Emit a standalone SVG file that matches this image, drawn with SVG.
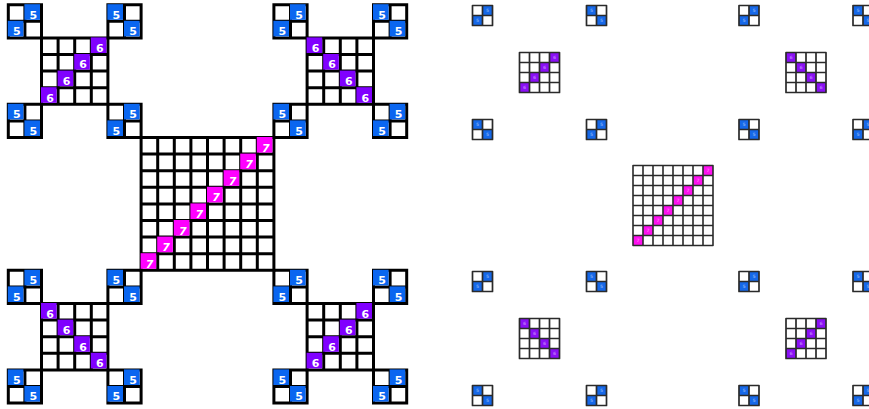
<svg xmlns="http://www.w3.org/2000/svg" width="869" height="409" viewBox="0 0 869 409">
<style>
.t{font-family:"DejaVu Sans",sans-serif;font-weight:bold;font-size:11px;fill:#fff;text-anchor:middle}
.i{font-style:italic}
.rt{font-family:"DejaVu Sans",sans-serif;font-weight:bold;font-size:4.5px;fill:#fff;fill-opacity:0.4;text-anchor:middle}
.p{fill:#8000ff}
.m{fill:#ff00ff}
.rp{fill:#8a10f5}
.rm{fill:#ff10f0}
</style>
<defs>
<path id="lg2" fill="#fff" stroke="#000" stroke-width="3" d="M0 0H33.2V33.2H0Z M16.6 0V33.2 M0 16.6H33.2"/>
<path id="lg4" fill="#fff" stroke="#000" stroke-width="3" d="M0 0H66.4V66.4H0Z M16.6 0V66.4M33.2 0V66.4M49.8 0V66.4M0 16.6H66.4M0 33.2H66.4M0 49.8H66.4"/>
<path id="lg8" fill="#fff" stroke="#000" stroke-width="3" d="M0 0H132.8V132.8H0Z M16.6 0V132.8M33.2 0V132.8M49.8 0V132.8M66.4 0V132.8M83 0V132.8M99.6 0V132.8M116.2 0V132.8M0 16.6H132.8M0 33.2H132.8M0 49.8H132.8M0 66.4H132.8M0 83H132.8M0 99.6H132.8M0 116.2H132.8"/>
<g id="lbA"><use href="#lg2"/><rect fill="#0a66f0" x="16.1" y="-0.5" width="15.6" height="15.6"/><rect fill="#0a66f0" x="-0.5" y="16.1" width="15.6" height="15.6"/></g>
<g id="lbM"><use href="#lg2"/><rect fill="#0a66f0" x="-0.5" y="-0.5" width="15.6" height="15.6"/><rect fill="#0a66f0" x="16.1" y="16.1" width="15.6" height="15.6"/></g>
<path id="rg2" fill="none" stroke="#2a2a2a" stroke-width="1.7" stroke-linejoin="round" d="M0 0H20V20H0Z M10 0V20 M0 10H20"/>
<path id="rg4" fill="none" stroke="#2a2a2a" stroke-width="1.7" stroke-linejoin="round" d="M0 0H40V40H0Z M10 0V40M20 0V40M30 0V40M0 10H40M0 20H40M0 30H40"/>
<path id="rg8" fill="none" stroke="#2a2a2a" stroke-width="1.6" stroke-linejoin="round" d="M0 0H80V80H0Z M10 0V80M20 0V80M30 0V80M40 0V80M50 0V80M60 0V80M70 0V80M0 10H80M0 20H80M0 30H80M0 40H80M0 50H80M0 60H80M0 70H80"/>
<g id="rbA"><rect fill="#1668e8" x="10" y="0" width="10" height="10"/><rect fill="#1668e8" x="0" y="10" width="10" height="10"/><use href="#rg2"/></g>
<g id="rbM"><rect fill="#1668e8" x="0" y="0" width="10" height="10"/><rect fill="#1668e8" x="10" y="10" width="10" height="10"/><use href="#rg2"/></g>
</defs>

<!-- LEFT FIGURE: blocks -->
<g id="L-blk-1" transform="translate(8.3,4.7)"><use href="#lbA"/><text class="t" x="25.1" y="14">5</text><text class="t" x="8.5" y="30.6">5</text></g>
<g id="L-blk-2" transform="translate(107.9,4.7)"><use href="#lbM"/><text class="t" x="8.5" y="14">5</text><text class="t" x="25.1" y="30.6">5</text></g>
<g id="L-blk-3" transform="translate(273.9,4.7)"><use href="#lbA"/><text class="t" x="25.1" y="14">5</text><text class="t" x="8.5" y="30.6">5</text></g>
<g id="L-blk-4" transform="translate(373.5,4.7)"><use href="#lbM"/><text class="t" x="8.5" y="14">5</text><text class="t" x="25.1" y="30.6">5</text></g>
<g id="L-blk-5" transform="translate(8.3,104.3)"><use href="#lbM"/><text class="t" x="8.5" y="14">5</text><text class="t" x="25.1" y="30.6">5</text></g>
<g id="L-blk-6" transform="translate(107.9,104.3)"><use href="#lbA"/><text class="t" x="25.1" y="14">5</text><text class="t" x="8.5" y="30.6">5</text></g>
<g id="L-blk-7" transform="translate(273.9,104.3)"><use href="#lbM"/><text class="t" x="8.5" y="14">5</text><text class="t" x="25.1" y="30.6">5</text></g>
<g id="L-blk-8" transform="translate(373.5,104.3)"><use href="#lbA"/><text class="t" x="25.1" y="14">5</text><text class="t" x="8.5" y="30.6">5</text></g>
<g id="L-blk-9" transform="translate(8.3,270.3)"><use href="#lbA"/><text class="t" x="25.1" y="14">5</text><text class="t" x="8.5" y="30.6">5</text></g>
<g id="L-blk-10" transform="translate(107.9,270.3)"><use href="#lbM"/><text class="t" x="8.5" y="14">5</text><text class="t" x="25.1" y="30.6">5</text></g>
<g id="L-blk-11" transform="translate(273.9,270.3)"><use href="#lbA"/><text class="t" x="25.1" y="14">5</text><text class="t" x="8.5" y="30.6">5</text></g>
<g id="L-blk-12" transform="translate(373.5,270.3)"><use href="#lbM"/><text class="t" x="8.5" y="14">5</text><text class="t" x="25.1" y="30.6">5</text></g>
<g id="L-blk-13" transform="translate(8.3,369.9)"><use href="#lbM"/><text class="t" x="8.5" y="14">5</text><text class="t" x="25.1" y="30.6">5</text></g>
<g id="L-blk-14" transform="translate(107.9,369.9)"><use href="#lbA"/><text class="t" x="25.1" y="14">5</text><text class="t" x="8.5" y="30.6">5</text></g>
<g id="L-blk-15" transform="translate(273.9,369.9)"><use href="#lbM"/><text class="t" x="8.5" y="14">5</text><text class="t" x="25.1" y="30.6">5</text></g>
<g id="L-blk-16" transform="translate(373.5,369.9)"><use href="#lbA"/><text class="t" x="25.1" y="14">5</text><text class="t" x="8.5" y="30.6">5</text></g>

<!-- LEFT FIGURE: 4x4 grids -->
<g id="L-grid-TL" transform="translate(41.5,37.9)"><use href="#lg4"/>
<rect class="p" x="49.3" y="-0.5" width="15.6" height="15.6"/><rect class="p" x="32.7" y="16.1" width="15.6" height="15.6"/><rect class="p" x="16.1" y="32.7" width="15.6" height="15.6"/><rect class="p" x="-0.5" y="49.3" width="15.6" height="15.6"/>
<text class="t" x="58.3" y="14">6</text><text class="t" x="41.7" y="30.6">6</text><text class="t" x="25.1" y="47.2">6</text><text class="t" x="8.5" y="63.8">6</text></g>
<g id="L-grid-TR" transform="translate(307.1,37.9)"><use href="#lg4"/>
<rect class="p" x="-0.5" y="-0.5" width="15.6" height="15.6"/><rect class="p" x="16.1" y="16.1" width="15.6" height="15.6"/><rect class="p" x="32.7" y="32.7" width="15.6" height="15.6"/><rect class="p" x="49.3" y="49.3" width="15.6" height="15.6"/>
<text class="t" x="8.5" y="14">6</text><text class="t" x="25.1" y="30.6">6</text><text class="t" x="41.7" y="47.2">6</text><text class="t" x="58.3" y="63.8">6</text></g>
<g id="L-grid-BL" transform="translate(41.5,303.5)"><use href="#lg4"/>
<rect class="p" x="-0.5" y="-0.5" width="15.6" height="15.6"/><rect class="p" x="16.1" y="16.1" width="15.6" height="15.6"/><rect class="p" x="32.7" y="32.7" width="15.6" height="15.6"/><rect class="p" x="49.3" y="49.3" width="15.6" height="15.6"/>
<text class="t" x="8.5" y="14">6</text><text class="t" x="25.1" y="30.6">6</text><text class="t" x="41.7" y="47.2">6</text><text class="t" x="58.3" y="63.8">6</text></g>
<g id="L-grid-BR" transform="translate(307.1,303.5)"><use href="#lg4"/>
<rect class="p" x="49.3" y="-0.5" width="15.6" height="15.6"/><rect class="p" x="32.7" y="16.1" width="15.6" height="15.6"/><rect class="p" x="16.1" y="32.7" width="15.6" height="15.6"/><rect class="p" x="-0.5" y="49.3" width="15.6" height="15.6"/>
<text class="t" x="58.3" y="14">6</text><text class="t" x="41.7" y="30.6">6</text><text class="t" x="25.1" y="47.2">6</text><text class="t" x="8.5" y="63.8">6</text></g>

<!-- LEFT FIGURE: center 8x8 -->
<g id="L-grid-center" transform="translate(141.1,137.5)"><use href="#lg8"/>
<rect class="m" x="115.7" y="-0.5" width="15.6" height="15.6"/><rect class="m" x="99.1" y="16.1" width="15.6" height="15.6"/><rect class="m" x="82.5" y="32.7" width="15.6" height="15.6"/><rect class="m" x="65.9" y="49.3" width="15.6" height="15.6"/><rect class="m" x="49.3" y="65.9" width="15.6" height="15.6"/><rect class="m" x="32.7" y="82.5" width="15.6" height="15.6"/><rect class="m" x="16.1" y="99.1" width="15.6" height="15.6"/><rect class="m" x="-0.5" y="115.7" width="15.6" height="15.6"/>
<text class="t i" x="124.7" y="14">7</text><text class="t i" x="108.1" y="30.6">7</text><text class="t i" x="91.5" y="47.2">7</text><text class="t i" x="74.9" y="63.8">7</text><text class="t i" x="58.3" y="80.4">7</text><text class="t i" x="41.7" y="97">7</text><text class="t i" x="25.1" y="113.6">7</text><text class="t i" x="8.5" y="130.2">7</text></g>

<!-- RIGHT FIGURE: blocks -->
<g id="R-blk-1" transform="translate(472.5,5.5)"><use href="#rbA"/><text class="rt" x="15" y="6.6">5</text><text class="rt" x="5" y="16.6">5</text></g>
<g id="R-blk-2" transform="translate(586.5,5.5)"><use href="#rbM"/><text class="rt" x="5" y="6.6">5</text><text class="rt" x="15" y="16.6">5</text></g>
<g id="R-blk-3" transform="translate(739,5.5)"><use href="#rbA"/><text class="rt" x="15" y="6.6">5</text><text class="rt" x="5" y="16.6">5</text></g>
<g id="R-blk-4" transform="translate(853,5.5)"><use href="#rbM"/><text class="rt" x="5" y="6.6">5</text><text class="rt" x="15" y="16.6">5</text></g>
<g id="R-blk-5" transform="translate(472.5,119.5)"><use href="#rbM"/><text class="rt" x="5" y="6.6">5</text><text class="rt" x="15" y="16.6">5</text></g>
<g id="R-blk-6" transform="translate(586.5,119.5)"><use href="#rbA"/><text class="rt" x="15" y="6.6">5</text><text class="rt" x="5" y="16.6">5</text></g>
<g id="R-blk-7" transform="translate(739,119.5)"><use href="#rbM"/><text class="rt" x="5" y="6.6">5</text><text class="rt" x="15" y="16.6">5</text></g>
<g id="R-blk-8" transform="translate(853,119.5)"><use href="#rbA"/><text class="rt" x="15" y="6.6">5</text><text class="rt" x="5" y="16.6">5</text></g>
<g id="R-blk-9" transform="translate(472.5,271.5)"><use href="#rbA"/><text class="rt" x="15" y="6.6">5</text><text class="rt" x="5" y="16.6">5</text></g>
<g id="R-blk-10" transform="translate(586.5,271.5)"><use href="#rbM"/><text class="rt" x="5" y="6.6">5</text><text class="rt" x="15" y="16.6">5</text></g>
<g id="R-blk-11" transform="translate(739,271.5)"><use href="#rbA"/><text class="rt" x="15" y="6.6">5</text><text class="rt" x="5" y="16.6">5</text></g>
<g id="R-blk-12" transform="translate(853,271.5)"><use href="#rbM"/><text class="rt" x="5" y="6.6">5</text><text class="rt" x="15" y="16.6">5</text></g>
<g id="R-blk-13" transform="translate(472.5,385.5)"><use href="#rbM"/><text class="rt" x="5" y="6.6">5</text><text class="rt" x="15" y="16.6">5</text></g>
<g id="R-blk-14" transform="translate(586.5,385.5)"><use href="#rbA"/><text class="rt" x="15" y="6.6">5</text><text class="rt" x="5" y="16.6">5</text></g>
<g id="R-blk-15" transform="translate(739,385.5)"><use href="#rbM"/><text class="rt" x="5" y="6.6">5</text><text class="rt" x="15" y="16.6">5</text></g>
<g id="R-blk-16" transform="translate(853,385.5)"><use href="#rbA"/><text class="rt" x="15" y="6.6">5</text><text class="rt" x="5" y="16.6">5</text></g>

<!-- RIGHT FIGURE: 4x4 grids -->
<g id="R-grid-TL" transform="translate(519.5,52.5)">
<rect class="rp" x="30" y="0" width="10" height="10"/><rect class="rp" x="20" y="10" width="10" height="10"/><rect class="rp" x="10" y="20" width="10" height="10"/><rect class="rp" x="0" y="30" width="10" height="10"/><use href="#rg4"/>
<text class="rt" x="35" y="6.6">6</text><text class="rt" x="25" y="16.6">6</text><text class="rt" x="15" y="26.6">6</text><text class="rt" x="5" y="36.6">6</text></g>
<g id="R-grid-TR" transform="translate(786,52.5)">
<rect class="rp" x="0" y="0" width="10" height="10"/><rect class="rp" x="10" y="10" width="10" height="10"/><rect class="rp" x="20" y="20" width="10" height="10"/><rect class="rp" x="30" y="30" width="10" height="10"/><use href="#rg4"/>
<text class="rt" x="5" y="6.6">6</text><text class="rt" x="15" y="16.6">6</text><text class="rt" x="25" y="26.6">6</text><text class="rt" x="35" y="36.6">6</text></g>
<g id="R-grid-BL" transform="translate(519.5,318.5)">
<rect class="rp" x="0" y="0" width="10" height="10"/><rect class="rp" x="10" y="10" width="10" height="10"/><rect class="rp" x="20" y="20" width="10" height="10"/><rect class="rp" x="30" y="30" width="10" height="10"/><use href="#rg4"/>
<text class="rt" x="5" y="6.6">6</text><text class="rt" x="15" y="16.6">6</text><text class="rt" x="25" y="26.6">6</text><text class="rt" x="35" y="36.6">6</text></g>
<g id="R-grid-BR" transform="translate(786,318.5)">
<rect class="rp" x="30" y="0" width="10" height="10"/><rect class="rp" x="20" y="10" width="10" height="10"/><rect class="rp" x="10" y="20" width="10" height="10"/><rect class="rp" x="0" y="30" width="10" height="10"/><use href="#rg4"/>
<text class="rt" x="35" y="6.6">6</text><text class="rt" x="25" y="16.6">6</text><text class="rt" x="15" y="26.6">6</text><text class="rt" x="5" y="36.6">6</text></g>

<!-- RIGHT FIGURE: center 8x8 -->
<g id="R-grid-center" transform="translate(633,165.5)">
<rect class="rm" x="70" y="0" width="10" height="10"/><rect class="rm" x="60" y="10" width="10" height="10"/><rect class="rm" x="50" y="20" width="10" height="10"/><rect class="rm" x="40" y="30" width="10" height="10"/><rect class="rm" x="30" y="40" width="10" height="10"/><rect class="rm" x="20" y="50" width="10" height="10"/><rect class="rm" x="10" y="60" width="10" height="10"/><rect class="rm" x="0" y="70" width="10" height="10"/><use href="#rg8"/>
<text class="rt" x="75" y="6.6">7</text><text class="rt" x="65" y="16.6">7</text><text class="rt" x="55" y="26.6">7</text><text class="rt" x="45" y="36.6">7</text><text class="rt" x="35" y="46.6">7</text><text class="rt" x="25" y="56.6">7</text><text class="rt" x="15" y="66.6">7</text><text class="rt" x="5" y="76.6">7</text></g>
</svg>
